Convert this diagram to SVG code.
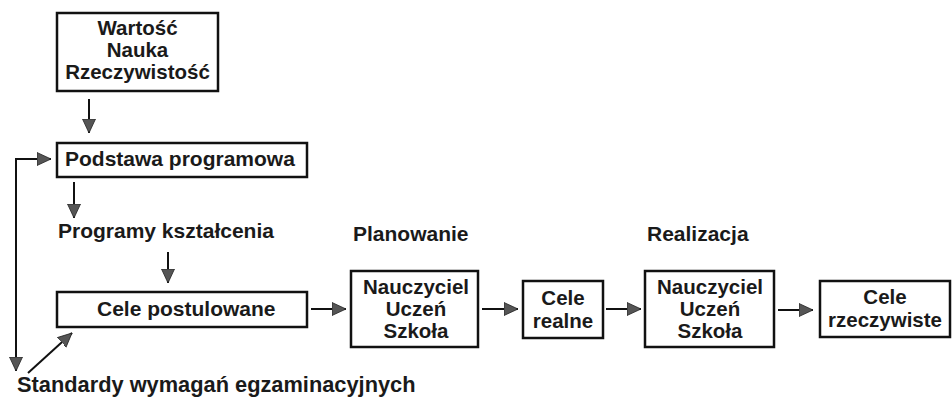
<svg xmlns="http://www.w3.org/2000/svg" width="952" height="401" viewBox="0 0 952 401">
<style>
text{font-family:"Liberation Sans",Arial,sans-serif;font-weight:bold;font-size:21px;fill:#1a1a1a}
.c{text-anchor:middle}
.m{font-size:20.5px}
.box{fill:#fff;stroke:#111;stroke-width:2.5}
.ln{stroke:#111;stroke-width:2;fill:none}
</style>
<defs>
<marker id="ah" markerUnits="userSpaceOnUse" markerWidth="15" markerHeight="15" viewBox="0 0 15 15" refX="14" refY="7.5" orient="auto">
<path d="M0,1 L14,7.5 L0,14 z" fill="#555" stroke="#222" stroke-width="0.8"/>
</marker>
</defs>
<rect width="952" height="401" fill="#fff"/>
<g id="n-wartosc">
<rect class="box" x="57" y="13" width="161" height="78"/>
<text class="c m" x="137.5" y="35">Wartość</text>
<text class="c m" x="137.5" y="57">Nauka</text>
<text class="c m" x="137.5" y="79">Rzeczywistość</text>
</g>
<g id="n-podstawa">
<rect class="box" x="57" y="143" width="250" height="34"/>
<text x="65" y="166">Podstawa programowa</text>
</g>
<g id="n-programy">
<text x="58" y="238">Programy kształcenia</text>
</g>
<g id="n-planowanie">
<text x="353" y="241">Planowanie</text>
</g>
<g id="n-realizacja">
<text x="647" y="241">Realizacja</text>
</g>
<g id="n-cele-postulowane">
<rect class="box" x="57" y="292" width="250" height="35"/>
<text x="97" y="316">Cele postulowane</text>
</g>
<g id="n-nauczyciel1">
<rect class="box" x="351" y="271" width="127" height="76"/>
<text class="c m" x="416" y="294">Nauczyciel</text>
<text class="c m" x="416" y="316">Uczeń</text>
<text class="c m" x="416" y="338">Szkoła</text>
</g>
<g id="n-cele-realne">
<rect class="box" x="523" y="281" width="80" height="57"/>
<text class="c m" x="563" y="305">Cele</text>
<text class="c m" x="563" y="328">realne</text>
</g>
<g id="n-nauczyciel2">
<rect class="box" x="645" y="271" width="129" height="76"/>
<text class="c m" x="710" y="294">Nauczyciel</text>
<text class="c m" x="710" y="316">Uczeń</text>
<text class="c m" x="710" y="338">Szkoła</text>
</g>
<g id="n-cele-rzeczywiste">
<rect class="box" x="820" y="281" width="130" height="56"/>
<text class="c m" x="885" y="304">Cele</text>
<text class="c m" x="885" y="327">rzeczywiste</text>
</g>
<g id="n-standardy">
<text x="17" y="392" style="font-size:21.8px">Standardy wymagań egzaminacyjnych</text>
</g>
<g id="connectors">
<line class="ln" x1="89" y1="99" x2="89" y2="133" marker-end="url(#ah)"/>
<line class="ln" x1="16" y1="159" x2="51" y2="159" marker-end="url(#ah)"/>
<line class="ln" x1="16" y1="158" x2="16" y2="371" marker-end="url(#ah)"/>
<line class="ln" x1="74" y1="182" x2="74" y2="218" marker-end="url(#ah)"/>
<line class="ln" x1="168" y1="252" x2="168" y2="283" marker-end="url(#ah)"/>
<line class="ln" x1="28" y1="373" x2="72" y2="333" marker-end="url(#ah)"/>
<line class="ln" x1="311" y1="309" x2="346" y2="309" marker-end="url(#ah)"/>
<line class="ln" x1="482" y1="309" x2="518" y2="309" marker-end="url(#ah)"/>
<line class="ln" x1="606" y1="309" x2="641" y2="309" marker-end="url(#ah)"/>
<line class="ln" x1="778" y1="310" x2="813" y2="310" marker-end="url(#ah)"/>
</g>
</svg>
